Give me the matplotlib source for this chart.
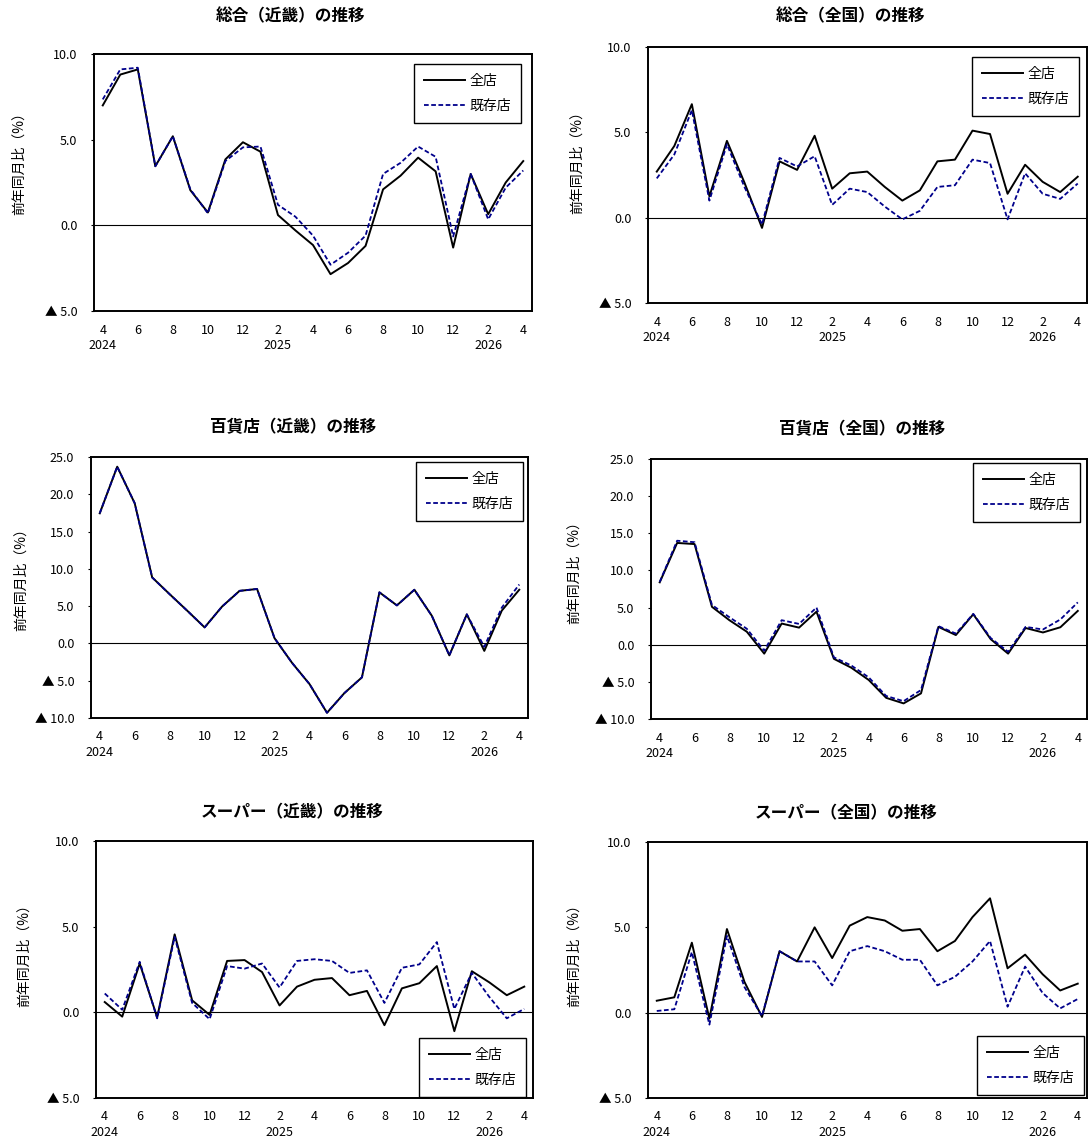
import matplotlib
matplotlib.use("Agg")
import matplotlib.pyplot as plt

plt.rcParams['font.family'] = ['Noto Sans CJK JP', 'DejaVu Sans']

# 2024/4 - 2026/4 (25 months)
tick_pos = list(range(0, 25, 2))
tick_labels = ["4\n2024", "6", "8", "10", "12", "2\n2025", "4", "6", "8", "10", "12", "2\n2026", "4"]

# 総合（近畿）
sogo_kinki_all = [7.0, 8.8, 9.1, 3.45, 5.2, 2.05, 0.75, 3.85, 4.85, 4.3, 0.6, -0.3, -1.15,
                  -2.85, -2.2, -1.2, 2.1, 2.9, 3.95, 3.15, -1.3, 3.0, 0.65, 2.5, 3.75]
sogo_kinki_exist = [7.35, 9.1, 9.2, 3.45, 5.2, 2.1, 0.7, 3.75, 4.55, 4.6, 1.2, 0.5, -0.6,
                    -2.3, -1.6, -0.6, 3.0, 3.65, 4.6, 4.0, -0.65, 3.0, 0.35, 2.2, 3.2]
# 総合（全国）
sogo_zenkoku_all = [2.7, 4.2, 6.65, 1.25, 4.5, 2.05, -0.6, 3.3, 2.8, 4.8, 1.7, 2.6, 2.7,
                    1.8, 1.0, 1.6, 3.3, 3.4, 5.1, 4.9, 1.4, 3.1, 2.1, 1.5, 2.4]
sogo_zenkoku_exist = [2.3, 3.7, 6.3, 1.0, 4.3, 1.8, -0.4, 3.5, 3.0, 3.6, 0.75, 1.7, 1.5,
                      0.65, -0.1, 0.4, 1.8, 1.9, 3.4, 3.2, -0.1, 2.6, 1.4, 1.1, 2.0]
# 百貨店（近畿）
dept_kinki_all = [17.45, 23.7, 18.8, 8.85, 6.6, 4.4, 2.15, 4.95, 7.05, 7.3, 0.7, -2.6, -5.45,
                  -9.3, -6.65, -4.55, 6.85, 5.1, 7.2, 3.7, -1.6, 3.9, -1.0, 4.4, 7.2]
dept_kinki_exist = [17.45, 23.7, 18.8, 8.85, 6.6, 4.4, 2.15, 4.95, 7.05, 7.3, 0.7, -2.6, -5.45,
                    -9.3, -6.65, -4.55, 6.85, 5.1, 7.2, 3.7, -1.6, 3.9, -0.45, 4.8, 7.9]
# 百貨店（全国）
dept_zenkoku_all = [8.4, 13.7, 13.55, 5.1, 3.3, 1.75, -1.2, 2.85, 2.3, 4.45, -1.9, -3.1, -4.75,
                    -7.15, -7.9, -6.55, 2.4, 1.3, 4.1, 0.75, -1.2, 2.25, 1.65, 2.35, 4.55]
dept_zenkoku_exist = [8.45, 14.0, 13.8, 5.35, 3.7, 2.15, -0.8, 3.3, 2.8, 5.0, -1.7, -2.8, -4.4,
                      -6.9, -7.6, -6.1, 2.5, 1.5, 4.15, 0.9, -0.95, 2.4, 2.05, 3.4, 5.7]
# スーパー（近畿）
super_kinki_all = [0.6, -0.25, 2.85, -0.3, 4.55, 0.7, -0.15, 3.0, 3.05, 2.35, 0.4, 1.5, 1.9,
                   2.0, 1.0, 1.25, -0.75, 1.4, 1.7, 2.7, -1.1, 2.4, 1.75, 1.0, 1.5]
super_kinki_exist = [1.1, 0.15, 2.95, -0.35, 4.4, 0.55, -0.4, 2.7, 2.55, 2.85, 1.45, 3.0, 3.1,
                     3.0, 2.3, 2.45, 0.55, 2.6, 2.8, 4.1, 0.2, 2.3, 0.9, -0.35, 0.2]
# スーパー（全国）
super_zenkoku_all = [0.7, 0.9, 4.1, -0.35, 4.9, 1.8, -0.25, 3.6, 3.0, 5.0, 3.2, 5.1, 5.6,
                     5.4, 4.8, 4.9, 3.6, 4.2, 5.6, 6.7, 2.6, 3.4, 2.25, 1.3, 1.7]
super_zenkoku_exist = [0.1, 0.2, 3.55, -0.7, 4.5, 1.5, -0.2, 3.6, 3.0, 3.0, 1.6, 3.6, 3.9,
                       3.6, 3.1, 3.1, 1.6, 2.1, 3.0, 4.2, 0.35, 2.7, 1.15, 0.25, 0.8]

W, H = 1088, 1141
fig = plt.figure(figsize=(W / 100, H / 100), dpi=100)


def fmt(v, pos=None):
    if v < 0:
        return "▲ %.1f" % abs(v)
    return "%.1f" % v


def make_chart(box, title, title_xy, ylab_xy, all_vals, exist_vals, ylim, ystep, leg_box):
    l, t, r, b = box
    ax = fig.add_axes([l / W, 1 - b / H, (r - l) / W, (b - t) / H])
    x = list(range(len(all_vals)))
    ax.plot(x, all_vals, color="black", lw=1.4, label="全店")
    ax.plot(x, exist_vals, color="#00008B", lw=1.3, linestyle=(0, (2.6, 1.4)), label="既存店")
    ax.axhline(0, color="black", lw=0.8, zorder=1)
    ax.set_xlim(-0.5, len(all_vals) - 0.5)
    ax.set_ylim(*ylim)
    yt = list(range(ylim[0], ylim[1] + 1, ystep))
    ax.set_yticks(yt)
    ax.set_yticklabels([fmt(v) for v in yt])
    ax.set_xticks(tick_pos)
    ax.set_xticklabels(tick_labels, linespacing=1.25)
    ax.tick_params(axis="y", length=2, width=0.8, direction="out", pad=10, labelsize=9)
    ax.tick_params(axis="x", length=0, pad=9, labelsize=9)
    for s in ax.spines.values():
        s.set_linewidth(1.4)
        s.set_color("black")
    # legend anchored by its upper right corner in figure pixels
    lr, lt = leg_box
    leg = ax.legend(loc="upper right", bbox_to_anchor=(lr / W, 1 - lt / H),
                    bbox_transform=fig.transFigure, borderaxespad=0,
                    fancybox=False, edgecolor="black", framealpha=1,
                    fontsize=10, handlelength=3.0, handletextpad=0.3,
                    labelspacing=0.8, borderpad=0.7)
    leg.get_frame().set_linewidth(1.0)
    fig.text(title_xy[0] / W, 1 - title_xy[1] / H, title, ha="center", va="center",
             fontsize=12, fontweight="bold")
    fig.text(ylab_xy[0] / W, 1 - ylab_xy[1] / H, "前年同月比（%）", ha="center", va="center",
             rotation=90, fontsize=10)
    return ax


make_chart((94, 54, 532, 311), "総合（近畿）の推移", (291, 16), (19, 160),
           sogo_kinki_all, sogo_kinki_exist, (-5, 10), 5, (521, 64))
make_chart((648, 47, 1086.5, 303), "総合（全国）の推移", (851, 16), (577, 159),
           sogo_zenkoku_all, sogo_zenkoku_exist, (-5, 10), 5, (1079, 57))
make_chart((91, 457, 528, 718), "百貨店（近畿）の推移", (293, 427), (21, 576),
           dept_kinki_all, dept_kinki_exist, (-10, 25), 5, (523, 462))
make_chart((651, 459, 1086.5, 719), "百貨店（全国）の推移", (862, 429), (574, 569),
           dept_zenkoku_all, dept_zenkoku_exist, (-10, 25), 5, (1080, 463))
make_chart((96, 841, 533, 1098), "スーパー（近畿）の推移", (292, 812), (24, 952),
           super_kinki_all, super_kinki_exist, (-5, 10), 5, (526, 1038))
make_chart((648, 842, 1086.5, 1098), "スーパー（全国）の推移", (846, 813), (574, 952),
           super_zenkoku_all, super_zenkoku_exist, (-5, 10), 5, (1084, 1036))

fig.savefig("out.png", dpi=100)
